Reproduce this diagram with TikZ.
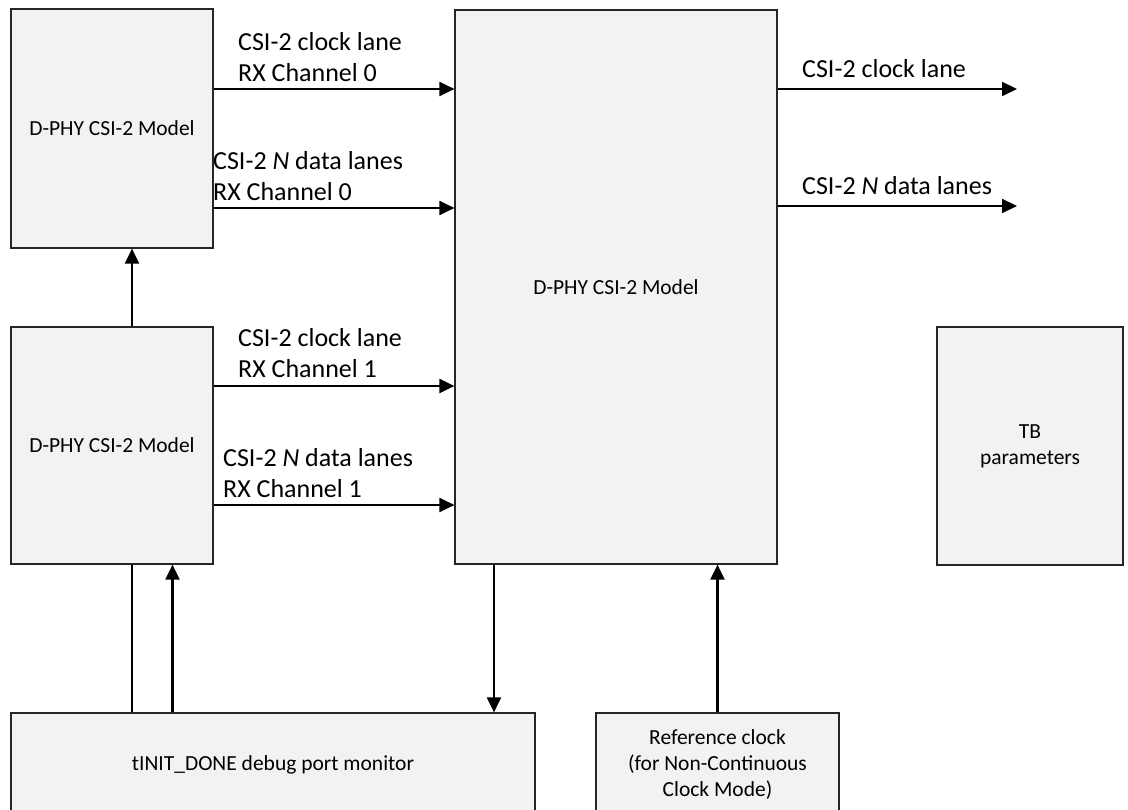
\documentclass[tikz,border=0pt]{standalone}
\usepackage{fontspec}
\setmainfont{Carlito}
\usetikzlibrary{arrows.meta}
\definecolor{boxgray}{HTML}{F2F2F2}
\newcommand\boxfont{\fontsize{21.5}{26}\selectfont}
\newcommand\lblfont{\fontsize{26}{31}\selectfont}
\begin{document}
\begin{tikzpicture}[x=1pt,y=-1pt,
  box/.style={draw=black!85, fill=boxgray, line width=1.2pt, inner sep=0pt, align=center, font=\boxfont},
  arr/.style={-{Triangle[length=15pt,width=14pt]}, line width=2.1pt},
  plain/.style={line width=1.3pt},
  lbl/.style={font=\lblfont, anchor=base west, inner sep=0pt}]
\useasboundingbox (0,0) rectangle (1128,810);
% boxes
\node[box, minimum width=202pt, minimum height=239pt] (A) at (112,128.5) {D-PHY CSI-2 Model};
\node[box, minimum width=202pt, minimum height=237pt] (B) at (112,445.5) {D-PHY CSI-2 Model};
\node[box, minimum width=322pt, minimum height=554pt] (C) at (616,287) {D-PHY CSI-2 Model};
\node[box, minimum width=186pt, minimum height=238pt] (TB) at (1030,446) {TB\\parameters};
\node[box, minimum width=524pt, minimum height=104pt] (D) at (273,765) {tINIT\_DONE debug port monitor};
\node[box, minimum width=243pt, minimum height=104pt] (R) at (717.5,765) {Reference clock\\(for Non-Continuous\\Clock Mode)};
% free ends on the right
\coordinate (o1) at (1017,89);
\coordinate (o2) at (1017,206);
% connectors A/B -> C
\draw[arr] (A.east |- 0,89) -- (C.west |- 0,89);
\draw[arr] (A.east |- 0,208) -- (C.west |- 0,208);
\draw[arr] (B.east |- 0,386) -- (C.west |- 0,386);
\draw[arr] (B.east |- 0,505) -- (C.west |- 0,505);
\draw[arr] (C.east |- o1) -- (o1);
\draw[arr] (C.east |- o2) -- (o2);
% vertical connectors
\draw[arr] (B.north -| 132,0) -- (A.south -| 132,0);
\draw[plain] (D.north -| 132,0) -- (B.south -| 132,0);
\draw[arr] (D.north -| 172.5,0) -- (B.south -| 172.5,0);
\draw[arr] (C.south -| 494,0) -- (D.north -| 494,0);
\draw[arr] (R.north) -- (C.south -| R.north);
% labels
\node[lbl] (l1a) at (238,50.7) {CSI-2 clock lane};
\node[lbl] (l1b) at (238,81.7) {RX Channel 0};
\node[lbl] (l2a) at (213,170) {CSI-2 \textit{N} data lanes};
\node[lbl] (l2b) at (213,201) {RX Channel 0};
\node[lbl] (l3a) at (238,347) {CSI-2 clock lane};
\node[lbl] (l3b) at (238,378) {RX Channel 1};
\node[lbl] (l4a) at (223,467) {CSI-2 \textit{N} data lanes};
\node[lbl] (l4b) at (223,497) {RX Channel 1};
\node[lbl] (r1) at (802,78) {CSI-2 clock lane};
\node[lbl] (r2) at (802,195) {CSI-2 \textit{N} data lanes};
\end{tikzpicture}
\end{document}
